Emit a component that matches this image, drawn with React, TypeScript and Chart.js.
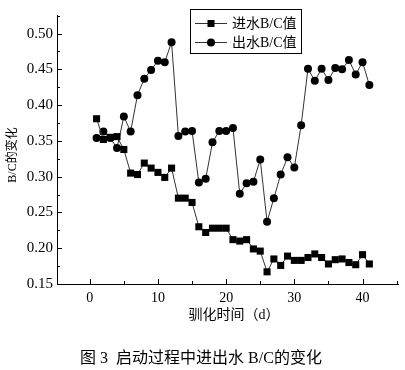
import React, { useEffect, useRef } from "react";
import { Chart, registerables } from "chart.js";

Chart.register(...registerables);

const days = [
  1, 2, 3, 4, 5, 6, 7, 8, 9, 10, 11, 12, 13, 14, 15, 16, 17, 18, 19, 20, 21,
  22, 23, 24, 25, 26, 27, 28, 29, 30, 31, 32, 33, 34, 35, 36, 37, 38, 39, 40, 41,
];
const influentBC = [
  0.381, 0.352, 0.355, 0.356, 0.338, 0.305, 0.303, 0.319, 0.312, 0.306, 0.299,
  0.312, 0.270, 0.270, 0.264, 0.230, 0.222, 0.228, 0.228, 0.228, 0.212, 0.210,
  0.212, 0.199, 0.196, 0.167, 0.185, 0.176, 0.189, 0.183, 0.183, 0.187, 0.192,
  0.187, 0.178, 0.184, 0.185, 0.180, 0.177, 0.191, 0.178,
];
const effluentBC = [
  0.354, 0.363, 0.354, 0.340, 0.384, 0.363, 0.414, 0.437, 0.449, 0.462, 0.460,
  0.488, 0.357, 0.363, 0.364, 0.292, 0.297, 0.348, 0.364, 0.364, 0.368, 0.276,
  0.291, 0.293, 0.324, 0.237, 0.270, 0.303, 0.327, 0.313, 0.372, 0.451, 0.434,
  0.451, 0.435, 0.452, 0.450, 0.463, 0.443, 0.460, 0.428,
];
const seriesLabels = ["进水B/C值", "出水B/C值"];
const xTickValues = [0, 10, 20, 30, 40];
const xMinorTickValues = [5, 15, 25, 35, 45];
const yTickValues = [0.15, 0.2, 0.25, 0.3, 0.35, 0.4, 0.45, 0.5];
const yMinorTickValues = [0.175, 0.225, 0.275, 0.325, 0.375, 0.425, 0.475, 0.525];
const xAxisTitle = "驯化时间（d）";
const yAxisTitle = "B/C的变化";
const caption = "图 3  启动过程中进出水 B/C的变化";

const SERIF = '"Liberation Serif", "Noto Sans CJK SC", serif';

const decorPlugin = {
  id: "decor",
  afterDatasetsDraw(chart: any) {
    const { ctx, chartArea, scales } = chart;
    const xs = scales.x;
    const ys = scales.y;
    ctx.save();
    ctx.strokeStyle = "#000";
    ctx.lineWidth = 1;
    // tick marks (inward)
    ctx.beginPath();
    const left = chartArea.left;
    const bottom = chartArea.bottom;
    yTickValues.forEach((v) => {
      const y = Math.round(ys.getPixelForValue(v)) + 0.5;
      ctx.moveTo(left, y);
      ctx.lineTo(left + 5, y);
    });
    yMinorTickValues.forEach((v) => {
      const y = Math.round(ys.getPixelForValue(v)) + 0.5;
      ctx.moveTo(left, y);
      ctx.lineTo(left + 3, y);
    });
    xTickValues.forEach((v) => {
      const x = Math.round(xs.getPixelForValue(v)) + 0.5;
      ctx.moveTo(x, bottom);
      ctx.lineTo(x, bottom - 5);
    });
    xMinorTickValues.forEach((v) => {
      const x = Math.round(xs.getPixelForValue(v)) + 0.5;
      ctx.moveTo(x, bottom);
      ctx.lineTo(x, bottom - 3);
    });
    ctx.stroke();

    // legend box
    const bx = 190.5, by = 9.5, bw = 111, bh = 44;
    ctx.fillStyle = "#fff";
    ctx.fillRect(bx, by, bw, bh);
    ctx.strokeRect(bx, by, bw, bh);
    const rows = [23, 42];
    chart.data.datasets.forEach((ds: any, i: number) => {
      const yy = rows[i] + 0.5;
      ctx.strokeStyle = "#333";
      ctx.lineWidth = 1;
      ctx.beginPath();
      ctx.moveTo(195, yy);
      ctx.lineTo(227, yy);
      ctx.stroke();
      ctx.fillStyle = "#000";
      if (ds.pointStyle === "rect") {
        ctx.fillRect(211 - 3.5, rows[i] - 3, 7, 7);
      } else {
        ctx.beginPath();
        ctx.arc(211, rows[i] + 0.5, 4, 0, Math.PI * 2);
        ctx.fill();
      }
      ctx.font = `14px ${SERIF}`;
      ctx.textAlign = "left";
      ctx.textBaseline = "middle";
      ctx.fillStyle = "#000";
      ctx.fillText(ds.label, 232, rows[i] + 1);
    });

    // axis titles & caption
    ctx.fillStyle = "#000";
    ctx.textAlign = "center";
    ctx.textBaseline = "middle";
    ctx.font = `14px ${SERIF}`;
    ctx.fillText(xAxisTitle, 234, 315);
    ctx.font = `16px ${SERIF}`;
    ctx.fillText(caption, 201, 359);
    ctx.save();
    ctx.translate(13, 155);
    ctx.rotate(-Math.PI / 2);
    ctx.font = `12px ${SERIF}`;
    ctx.fillText(yAxisTitle, 0, 0);
    ctx.restore();
    ctx.restore();
  },
};

export default function App() {
  const canvasRef = useRef<HTMLCanvasElement | null>(null);

  useEffect(() => {
    document.body.style.margin = "0";
    const canvas = canvasRef.current;
    if (!canvas) return;
    const chart = new Chart(canvas, {
      type: "line",
      data: {
        datasets: [
          {
            label: seriesLabels[0],
            data: days.map((d, i) => ({ x: d, y: influentBC[i] })),
            borderColor: "#333",
            borderWidth: 1,
            pointStyle: "rect",
            pointRadius: 5,
            pointBackgroundColor: "#000",
            pointBorderColor: "#000",
            pointBorderWidth: 0,
            tension: 0,
          },
          {
            label: seriesLabels[1],
            data: days.map((d, i) => ({ x: d, y: effluentBC[i] })),
            borderColor: "#333",
            borderWidth: 1,
            pointStyle: "circle",
            pointRadius: 4,
            pointBackgroundColor: "#000",
            pointBorderColor: "#000",
            pointBorderWidth: 0,
            tension: 0,
          },
        ],
      },
      options: {
        animation: false,
        responsive: false,
        devicePixelRatio: 1,
        layout: { padding: { left: 0, top: 15, right: 7, bottom: 0 } },
        plugins: {
          legend: { display: false },
          tooltip: { enabled: false },
        },
        scales: {
          x: {
            type: "linear",
            min: -4.8,
            max: 45.2,
            afterBuildTicks: (scale: any) => {
              scale.ticks = xTickValues.map((v) => ({ value: v }));
            },
            afterFit: (scale: any) => {
              scale.height = 86;
            },
            grid: { display: false, drawTicks: false },
            border: { display: true, color: "#000", width: 1 },
            ticks: {
              padding: 6,
              color: "#000",
              font: { family: SERIF, size: 14 },
              maxRotation: 0,
              autoSkip: false,
            },
          },
          y: {
            type: "linear",
            min: 0.15,
            max: 0.526,
            afterBuildTicks: (scale: any) => {
              scale.ticks = yTickValues.map((v) => ({ value: v }));
            },
            afterFit: (scale: any) => {
              scale.width = 57;
            },
            grid: { display: false, drawTicks: false },
            border: { display: true, color: "#000", width: 1 },
            ticks: {
              padding: 4,
              color: "#000",
              font: { family: SERIF, size: 15 },
              callback: (v: any) => Number(v).toFixed(2),
            },
          },
        },
      },
      plugins: [decorPlugin],
    });
    return () => chart.destroy();
  }, []);

  return (
    <div style={{ position: "absolute", left: 0, top: 0, width: 405, height: 370, background: "#fff" }}>
      <canvas ref={canvasRef} width={405} height={370} style={{ display: "block" }} />
    </div>
  );
}
